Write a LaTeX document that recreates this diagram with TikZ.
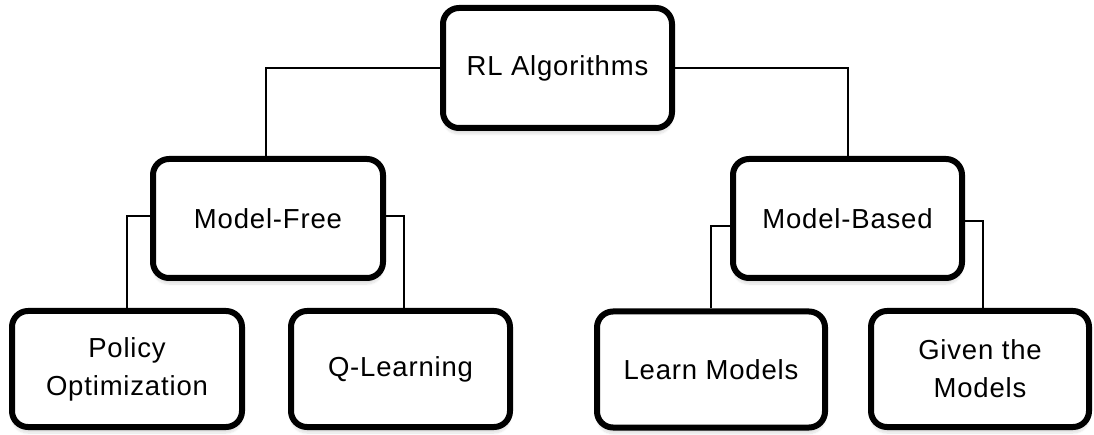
\documentclass[tikz,border=0pt]{standalone}
\usepackage{fontspec}
\setmainfont{Liberation Sans}[LetterSpace=3]
\usetikzlibrary{shadows.blur}
\tikzset{
  algobox/.style={
    draw=black, line width=6pt, rounded corners=16pt, fill=white,
    align=center, inner sep=0pt,
    font=\fontsize{27.5}{38}\selectfont,
    blur shadow={shadow xshift=0pt, shadow yshift=-6pt,
                 shadow opacity=12, shadow blur steps=10}
  },
  link/.style={draw=black, line width=2pt}
}
\begin{document}
\begin{tikzpicture}[x=1pt, y=-1pt]
  \useasboundingbox (0,0) rectangle (1094,435);
  % taxonomy boxes
  \node[algobox, minimum width=229pt, minimum height=120pt] (root) at (557.5,68) {RL Algorithms};
  \node[algobox, minimum width=230pt, minimum height=119pt] (mf) at (268,218.5) {Model-Free};
  \node[algobox, minimum width=229pt, minimum height=119pt] (mb) at (847.5,218.5) {Model-Based};
  \node[algobox, minimum width=230pt, minimum height=116pt] (po) at (127,369) {Policy\\Optimization};
  \node[algobox, minimum width=219pt, minimum height=116pt] (ql) at (400.5,369) {Q-Learning};
  \node[algobox, minimum width=228pt, minimum height=116pt] (lm) at (711,369.5) {Learn Models};
  \node[algobox, minimum width=218pt, minimum height=116pt] (gm) at (980,369) {Given the\\Models};
  % elbow connectors
  \draw[link] (root.west) -| ([xshift=-2pt]mf.north);
  \draw[link] (root.east) -| (mb.north);
  \draw[link] ([yshift=2.5pt]mf.west) -| (po.north);
  \draw[link] ([yshift=2.5pt]mf.east) -| ([xshift=3.5pt]ql.north);
  \draw[link] ([yshift=-7.5pt]mb.west) -| (lm.north);
  \draw[link] ([yshift=-3pt]mb.east) -| ([xshift=3pt]gm.north);
\end{tikzpicture}
\end{document}
